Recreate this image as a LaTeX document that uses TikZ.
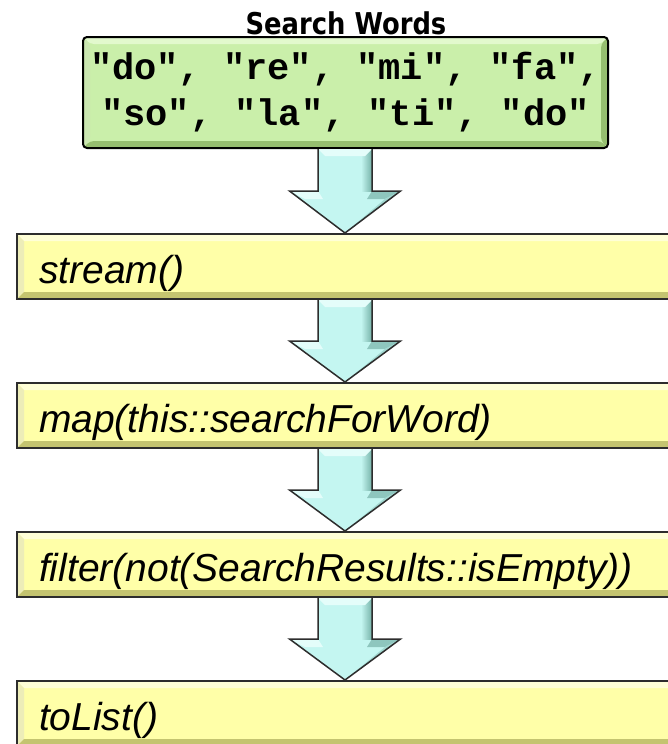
\documentclass[tikz,border=0pt]{standalone}
\usepackage{fontspec}
\setmainfont{Liberation Sans}
\setmonofont{Liberation Mono}
\newfontfamily\titlefont[FakeStretch=0.86]{DejaVu Sans}
\usetikzlibrary{calc}

\definecolor{wordsgreen}{RGB}{202,239,170}
\definecolor{wordslight}{RGB}{226,249,205}
\definecolor{wordsdark}{RGB}{150,190,112}
\definecolor{callyellow}{RGB}{255,255,168}
\definecolor{calllight}{RGB}{255,255,215}
\definecolor{calldark}{RGB}{196,196,112}
\definecolor{boxedge}{RGB}{45,45,45}
\definecolor{pipecyan}{RGB}{196,246,241}
\definecolor{pipelight}{RGB}{228,253,250}
\definecolor{pipedark}{RGB}{118,178,168}

\tikzset{
  bevel/.style 2 args={path picture={
    \path (path picture bounding box.north west) coordinate (bnw)
          (path picture bounding box.north east) coordinate (bne)
          (path picture bounding box.south east) coordinate (bse)
          (path picture bounding box.south west) coordinate (bsw);
    \fill[#1] (bnw) -- (bne) -- ([xshift=-7pt,yshift=-7pt]bne)
      -- ([xshift=7pt,yshift=-7pt]bnw) -- cycle;
    \fill[#1!70!#2] (bnw) -- ([xshift=7pt,yshift=-7pt]bnw)
      -- ([xshift=7pt,yshift=7pt]bsw) -- (bsw) -- cycle;
    \fill[#2] (bsw) -- (bse) -- ([xshift=-7pt,yshift=7pt]bse)
      -- ([xshift=7pt,yshift=7pt]bsw) -- cycle;
    \fill[#2] (bne) -- ([xshift=-7pt,yshift=-7pt]bne)
      -- ([xshift=-7pt,yshift=7pt]bse) -- (bse) -- cycle;
  }},
  titlelabel/.style={font=\titlefont\bfseries\fontsize{30}{36}\selectfont},
  wordsbox/.style={draw=black, line width=2pt, rounded corners=4pt,
    fill=wordsgreen, bevel={wordslight}{wordsdark},
    minimum width=525pt, minimum height=111pt, align=center,
    inner xsep=0pt, font=\ttfamily\bfseries\fontsize{37}{46}\selectfont},
  callbox/.style={draw=boxedge, line width=2pt, fill=callyellow,
    bevel={calllight}{calldark}, anchor=north west,
    minimum width=664pt, minimum height=65pt, text width=620pt,
    inner xsep=22pt, inner ysep=0pt, align=left,
    text height=33pt, text depth=0pt,
    font=\itshape\fontsize{39}{47}\selectfont},
  pipearrow/.style={draw=boxedge, line width=1.5pt, line join=miter}
}

% block arrow from the bottom of #1 to the top of #2
\newcommand{\pipeto}[2]{%
  \coordinate (top) at (#1.south -| axis);
  \coordinate (tip) at (#2.north -| axis);
  \coordinate (mid) at ($(top)!0.5!(tip)$);
  \fill[pipecyan] ([xshift=-27pt]top) -- ([xshift=-27pt]mid)
    -- ([xshift=-55.5pt]mid) -- (tip) -- ([xshift=55.5pt]mid)
    -- ([xshift=27pt]mid) -- ([xshift=27pt]top) -- cycle;
  \shade[left color=pipecyan, right color=pipedark]
    ([xshift=16pt]top) rectangle ([xshift=27pt]mid);
  \fill[pipelight] ([xshift=-27pt]top) -- ([xshift=27pt]top)
    -- ([xshift=20pt,yshift=-7pt]top) -- ([xshift=-20pt,yshift=-7pt]top) -- cycle;
  \fill[pipelight] ([xshift=-55.5pt]mid) -- ([xshift=-27pt]mid)
    -- ([xshift=-22pt,yshift=-8pt]mid) -- ([xshift=-40pt,yshift=-8pt]mid) -- cycle;
  \fill[pipedark!70!pipecyan] ([xshift=55.5pt]mid) -- ([xshift=27pt]mid)
    -- ([xshift=22pt,yshift=-8pt]mid) -- ([xshift=40pt,yshift=-8pt]mid) -- cycle;
  \fill[pipedark!45!pipecyan] (tip) -- ([xshift=40pt,yshift=-8pt]mid)
    -- ([xshift=55.5pt]mid) -- cycle;
  \draw[pipearrow] ([xshift=-27pt]top) -- ([xshift=-27pt]mid)
    -- ([xshift=-55.5pt]mid) -- (tip) -- ([xshift=55.5pt]mid)
    -- ([xshift=27pt]mid) -- ([xshift=27pt]top);
}

\begin{document}
\begin{tikzpicture}[x=1pt,y=-1pt]

  \useasboundingbox (0,0) rectangle (667,744);
  \coordinate (axis) at (345,0);

  \node[titlelabel, anchor=base] (title) at (346,34) {Search Words};
  \node[wordsbox] (words) at (345.5,92.5)
    {"do", "re", "mi", "fa",\\ "so", "la", "ti", "do"};

  \node[callbox] (stream) at (16,233) {stream()};
  \node[callbox] (map)    at (16,382) {map(this::searchForWord)};
  \node[callbox] (filter) at (16,531) {filter(not(SearchResults::isEmpty))};
  \node[callbox] (tolist) at (16,680) {toList()};

  \pipeto{words}{stream}
  \pipeto{stream}{map}
  \pipeto{map}{filter}
  \pipeto{filter}{tolist}

\end{tikzpicture}
\end{document}
